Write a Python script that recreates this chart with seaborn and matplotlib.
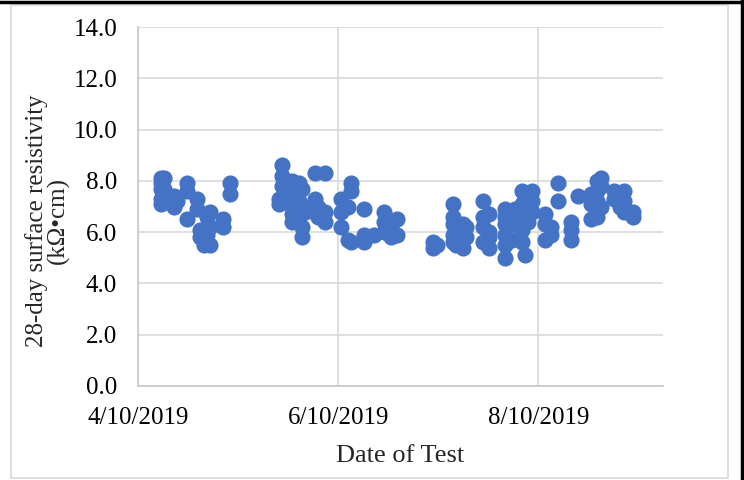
import matplotlib
matplotlib.use('Agg')
import matplotlib.pyplot as plt
import matplotlib.lines as mlines
import matplotlib.patches as mpatches
import pandas as pd
import seaborn as sns

# test dates (one entry per specimen) and 28-day resistivity (kOhm-cm)
test_dates = (
    ['2019-04-17'] * 5 + ['2019-04-18'] * 2 + ['2019-04-21'] * 2 + ['2019-04-22']
    + ['2019-04-25'] * 3 + ['2019-04-28'] * 2 + ['2019-04-29'] * 2 + ['2019-04-30'] * 2
    + ['2019-05-01'] * 2 + ['2019-05-02'] * 3 + ['2019-05-06'] * 2 + ['2019-05-08'] * 2
    + ['2019-05-23'] * 2 + ['2019-05-24'] * 3 + ['2019-05-25'] + ['2019-05-27'] * 5
    + ['2019-05-29'] * 3 + ['2019-05-30'] * 3 + ['2019-05-31'] * 2 + ['2019-06-03'] * 3
    + ['2019-06-04'] * 2 + ['2019-06-06'] * 3 + ['2019-06-11'] * 3 + ['2019-06-13'] * 2
    + ['2019-06-14'] * 3 + ['2019-06-18'] * 3 + ['2019-06-21'] + ['2019-06-24'] * 3
    + ['2019-06-26'] * 2 + ['2019-06-28'] * 2 + ['2019-07-09'] * 2 + ['2019-07-10']
    + ['2019-07-15'] * 5 + ['2019-07-16'] * 2 + ['2019-07-18'] * 2 + ['2019-07-19'] * 2
    + ['2019-07-24'] * 4 + ['2019-07-26'] * 4 + ['2019-07-31'] * 6 + ['2019-08-02'] * 3
    + ['2019-08-03'] * 2 + ['2019-08-05'] * 5 + ['2019-08-06'] * 2 + ['2019-08-07'] * 3
    + ['2019-08-08'] * 3 + ['2019-08-12'] * 3 + ['2019-08-14'] * 2 + ['2019-08-16'] * 2
    + ['2019-08-20'] * 3 + ['2019-08-22'] + ['2019-08-26'] * 3 + ['2019-08-28'] * 5
    + ['2019-08-29'] * 3 + ['2019-09-02'] * 2 + ['2019-09-04'] + ['2019-09-05'] * 3
    + ['2019-09-08'] * 2
)
resistivity = [
    7.9, 8.1, 7.7, 7.3, 7.1, 8.1, 7.7, 7.4, 7.0, 7.2,
    7.9, 7.6, 6.5, 7.3, 6.9, 6.1, 5.8, 5.5, 6.0,
    6.6, 5.9, 6.8, 5.5, 6.2, 6.5, 6.2, 7.9, 7.5,
    7.3, 7.1, 8.6, 8.2, 7.8, 7.5, 8.0, 7.6, 7.0, 6.7, 6.4,
    7.9, 7.2, 6.6, 7.7, 6.2, 5.8, 7.0, 6.8, 8.3, 7.3, 6.8,
    7.0, 6.6, 8.3, 6.8, 6.4, 7.3, 6.8, 6.2, 7.0, 5.7,
    7.9, 7.6, 5.6, 6.9, 5.6, 5.9, 5.9, 6.8, 6.4, 6.0,
    6.2, 5.8, 6.5, 5.9, 5.6, 5.4, 5.5,
    7.1, 6.6, 6.3, 5.9, 5.6, 6.0, 5.5, 6.3, 5.4, 6.2, 5.8,
    7.2, 6.6, 6.2, 5.6, 6.7, 6.0, 5.8, 5.4, 6.9, 6.6, 6.3, 5.9, 5.5, 5.0, 6.8, 6.3, 5.7,
    6.9, 6.3, 7.6, 7.1, 6.5, 6.1, 5.6, 7.3, 5.1, 7.5, 6.9, 6.4,
    7.6, 7.2, 6.8, 6.7, 6.3, 5.7, 6.2, 5.9, 7.9, 7.2,
    6.4, 6.1, 5.7, 7.4, 7.5, 7.1, 6.5, 8.0, 7.6, 7.2, 6.8, 6.6,
    8.1, 7.8, 7.0, 7.6, 7.3, 7.0, 7.6, 7.2, 6.8,
    6.8, 6.6,
]

x_ticks = ['2019-04-10', '2019-06-10', '2019-08-10']
x_end = '2019-09-17'
y_ticks = [0, 2, 4, 6, 8, 10, 12, 14]

df = pd.DataFrame({'date': pd.to_datetime(test_dates), 'res': resistivity})

sns.set_style('white')
plt.rcParams['font.family'] = ['Liberation Serif', 'DejaVu Serif']

fig = plt.figure(figsize=(7.44, 4.8), dpi=100)
ax = fig.add_axes([138 / 744, 1 - 386 / 480, 525 / 744, 359 / 480])

grid_c = '#d9d9d9'
sns.scatterplot(data=df, x='date', y='res', ax=ax, color='#4472C4',
                s=135, linewidth=0, alpha=1, zorder=3)

tick_pos = pd.to_datetime(x_ticks)
ax.set_xlim(tick_pos[0], pd.to_datetime(x_end))
ax.set_ylim(0, 14)
ax.set_xticks(tick_pos)
ax.set_xticklabels([f'{d.month}/{d.day}/{d.year}' for d in tick_pos])
ax.set_yticks(y_ticks)
ax.set_yticklabels([f'{v:.1f}' for v in y_ticks])
ax.tick_params(axis='both', length=0, labelsize=18, colors='black')
ax.tick_params(axis='y', pad=15)
ax.tick_params(axis='x', pad=15)

ax.grid(True, color=grid_c, linewidth=1.2)
ax.set_axisbelow(True)
for side in ['top', 'right']:
    ax.spines[side].set_visible(False)
for side in ['left', 'bottom']:
    ax.spines[side].set_color('#c8c8c8')
    ax.spines[side].set_linewidth(1.2)

ax.set_xlabel('Date of Test', fontsize=19, labelpad=12)
ax.set_ylabel('28-day surface resistivity\n(k\u03a9\u2022cm)', fontsize=18,
              linespacing=0.95)
ax.yaxis.set_label_coords(-0.13, 0.46)

# outer frames like the pasted Excel chart
fig.patches.append(mpatches.Rectangle((11 / 744, 2 / 480), 717 / 744, 473 / 480,
                                      transform=fig.transFigure, fill=False,
                                      edgecolor='#d9d9d9', linewidth=1.2))
fig.add_artist(mlines.Line2D([0, 1], [1 - 2 / 480, 1 - 2 / 480], color='black', linewidth=2.5))
fig.add_artist(mlines.Line2D([1 - 2 / 744, 1 - 2 / 744], [0, 1], color='black', linewidth=2.5))

fig.savefig('out.png', dpi=100)
